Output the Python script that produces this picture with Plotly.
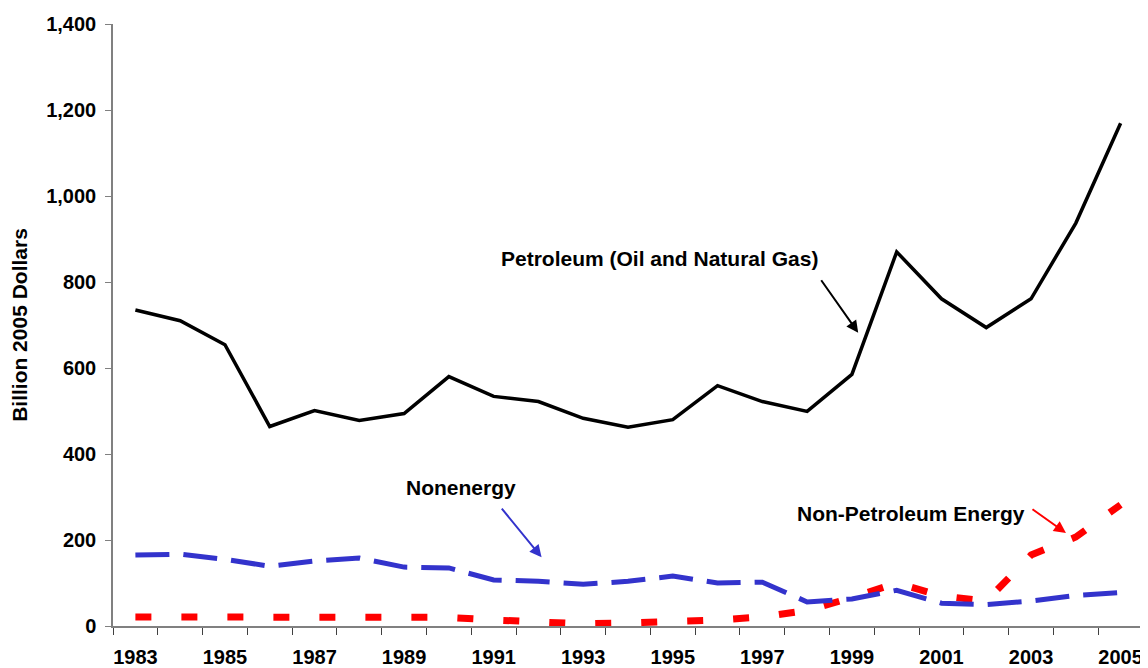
import plotly.graph_objects as go

years = list(range(1983, 2006))
petroleum = [735, 710, 654, 464, 501, 478, 494, 580, 534, 522, 483, 462, 480, 559, 522, 499, 585, 870, 761, 694, 761, 937, 1169]
nonenergy = [165, 167, 155, 139, 151, 158, 137, 135, 107, 104, 97, 104, 116, 100, 102, 56, 63, 83, 53, 50, 58, 71, 78]
non_pet_energy = [21, 21, 20, 18, 21, 20, 21, 20, 14, 9, 5, 7, 9, 14, 21, 36, 66, 100, 70, 58, 165, 207, 282]
tick_years = list(range(1983, 2006, 2))
y_ticks = [0, 200, 400, 600, 800, 1000, 1200, 1400]

FONT = "Liberation Sans, Arial, sans-serif"

fig = go.Figure()
fig.add_trace(go.Scatter(x=years, y=non_pet_energy, mode="lines",
                         line=dict(color="#ff0000", width=7, dash="16px,30px"),
                         name="Non-Petroleum Energy"))
fig.add_trace(go.Scatter(x=years, y=nonenergy, mode="lines",
                         line=dict(color="#3333cc", width=5, dash="34px,14px"),
                         name="Nonenergy"))
fig.add_trace(go.Scatter(x=years, y=petroleum, mode="lines",
                         line=dict(color="#000000", width=3.5),
                         name="Petroleum (Oil and Natural Gas)"))

ann_font = dict(family=FONT, size=21, color="black", weight="bold")
annotations = [
    dict(x=1994.70, y=854, text="Petroleum (Oil and Natural Gas)", showarrow=False, font=ann_font),
    dict(x=1990.27, y=322, text="Nonenergy", showarrow=False, font=ann_font),
    dict(x=2000.32, y=262, text="Non-Petroleum Energy", showarrow=False, font=ann_font),
    dict(x=1999.14, y=682, text="", showarrow=True, ax=-38, ay=-54,
         arrowhead=2, arrowsize=1.2, arrowwidth=2, arrowcolor="black"),
    dict(x=1992.07, y=160, text="", showarrow=True, ax=-41, ay=-50,
         arrowhead=2, arrowsize=1.2, arrowwidth=2, arrowcolor="#3333cc"),
    dict(x=2003.78, y=216, text="", showarrow=True, ax=-35, ay=-25,
         arrowhead=2, arrowsize=1.2, arrowwidth=2, arrowcolor="#ff0000"),
]
for a in annotations:
    a.update(xref="x", yref="y")

fig.update_layout(
    width=1140, height=660,
    margin=dict(l=105, r=5, t=16, b=42),
    paper_bgcolor="white", plot_bgcolor="white",
    showlegend=False,
    annotations=annotations,
    font=dict(family=FONT, color="black"),
)
fig.update_xaxes(
    range=[1982.5, 2005.5], automargin=False,
    tickvals=tick_years, ticktext=[str(y) for y in tick_years],
    ticks="", showgrid=False, zeroline=False,
    showline=True, linecolor="#808080", linewidth=1.5,
    tickfont=dict(family=FONT, size=20, color="black", weight="bold"),
    ticklabelstandoff=12,
    minor=dict(tickvals=[1982.5 + i for i in range(24)], ticks="outside",
               ticklen=7, tickcolor="#404040", tickwidth=1, showgrid=False),
)
fig.update_yaxes(
    range=[0, 1400], automargin=False, tickvals=y_ticks,
    tickformat=",d",
    ticks="outside", ticklen=6, tickcolor="#808080",
    showgrid=False, zeroline=False,
    showline=True, linecolor="#808080", linewidth=1.5,
    tickfont=dict(family=FONT, size=20, color="black", weight="bold"),
    ticklabelstandoff=5,
    title=dict(text="Billion 2005 Dollars", font=dict(family=FONT, size=21, color="black", weight="bold"), standoff=13),
)

fig.write_html("out.html")
